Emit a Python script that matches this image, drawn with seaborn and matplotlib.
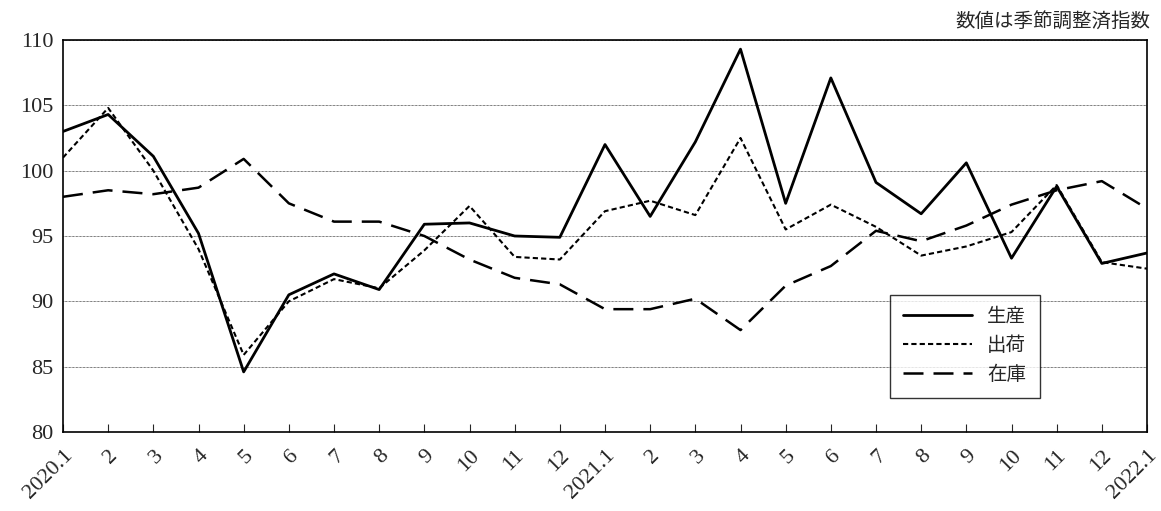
import matplotlib
matplotlib.use("Agg")
import matplotlib.pyplot as plt
import seaborn as sns
import pandas as pd

labels = ["2020.1", "2", "3", "4", "5", "6", "7", "8", "9", "10", "11", "12",
          "2021.1", "2", "3", "4", "5", "6", "7", "8", "9", "10", "11", "12", "2022.1"]
production = [103.0, 104.3, 101.1, 95.2, 84.6, 90.5, 92.1, 90.9, 95.9, 96.0, 95.0, 94.9,
              102.0, 96.5, 102.2, 109.3, 97.5, 107.1, 99.1, 96.7, 100.6, 93.3, 98.8, 92.9, 93.7]
shipment = [101.0, 104.8, 100.0, 94.0, 85.9, 90.0, 91.7, 91.0, 93.9, 97.3, 93.4, 93.2,
            96.9, 97.7, 96.6, 102.5, 95.5, 97.4, 95.7, 93.5, 94.2, 95.3, 98.9, 93.0, 92.5]
inventory = [98.0, 98.5, 98.2, 98.7, 100.9, 97.5, 96.1, 96.1, 95.0, 93.2, 91.8, 91.3,
             89.4, 89.4, 90.2, 87.8, 91.2, 92.7, 95.4, 94.6, 95.8, 97.4, 98.5, 99.2, 97.1]

sns.set_style("white")
plt.rcParams['font.family'] = ['Liberation Serif', 'Noto Sans CJK JP']

df = pd.DataFrame({"x": range(len(labels)), "生産": production, "出荷": shipment, "在庫": inventory})

fig = plt.figure(figsize=(11.61, 5.11), dpi=100)
ax = fig.add_axes([63/1161, 1 - 432/511, 1084/1161, 392/511])

styles = {"生産": ("-", 2.0), "出荷": ((0, (2.5, 1.5)), 1.5), "在庫": ((0, (8, 4)), 1.8)}
for name, (ls, lw) in styles.items():
    sns.lineplot(data=df, x="x", y=name, ax=ax, color="black", linewidth=lw, label=name,
                 linestyle=ls)

ax.set_xlim(0, len(labels) - 1)
ax.set_ylim(80, 110)
ax.set_yticks(range(80, 111, 5))
ax.yaxis.grid(True, color="black", linewidth=0.5, linestyle=(0, (1, 1)))
ax.set_xticks(range(len(labels)))
ax.set_xticklabels(labels, rotation=45, ha="right", rotation_mode="anchor", fontsize=16)
ax.tick_params(axis="x", direction="in", length=6, bottom=True, pad=10)
ax.tick_params(axis="y", left=False, labelsize=16)
ax.set_xlabel("")
ax.set_ylabel("")
for s in ax.spines.values():
    s.set_color("black")
    s.set_linewidth(1.2)

leg = ax.legend(loc="lower right", bbox_to_anchor=(0.901, 0.087), borderaxespad=0, fontsize=14,
                handlelength=3.5, frameon=True, fancybox=False, edgecolor="black",
                borderpad=0.7, labelspacing=0.55)
leg.get_frame().set_linewidth(1.0)

fig.text(1150/1161, 1 - 22/511, "数値は季節調整済指数", ha="right", va="center", fontsize=14)

fig.savefig("out.png", dpi=100)
